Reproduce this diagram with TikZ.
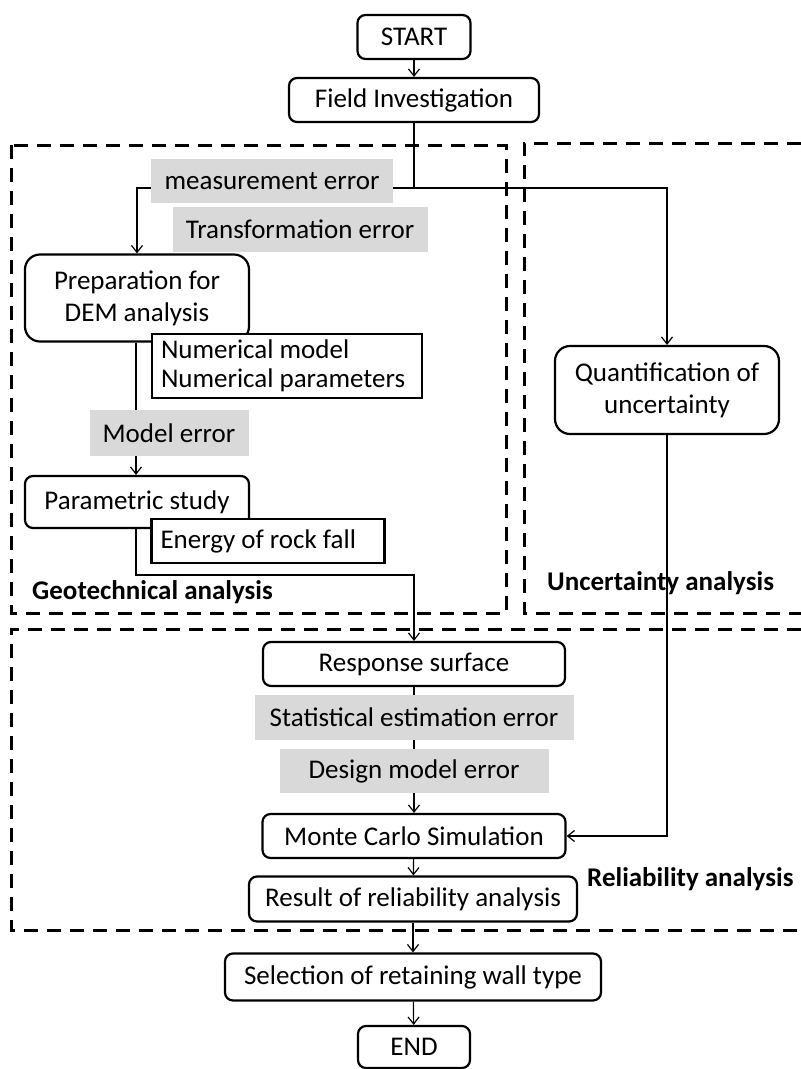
\documentclass[tikz,border=0pt]{standalone}
\usepackage{fontspec}
\setmainfont{Carlito}
\usetikzlibrary{arrows.meta}
\definecolor{errgray}{HTML}{D9D9D9}
\begin{document}
\begin{tikzpicture}[x=1pt,y=-1pt,
  font=\fontsize{27}{32}\selectfont,
  flowbox/.style={draw, line width=2.2pt, rounded corners=8pt, inner sep=0pt, align=center, fill=white},
  bigbox/.style={flowbox, rounded corners=15pt},
  sqbox/.style={draw, line width=2.2pt, inner ysep=0pt, inner xsep=9pt, align=flush left, fill=white},
  errlabel/.style={fill=errgray, inner sep=0pt, align=center},
  conn/.style={line width=1.2pt},
  arr/.style={conn, -{Straight Barb[length=7pt,width=11pt,line width=1.2pt]}},
  region/.style={line width=3pt, dash pattern=on 14pt off 9pt},
  regionlabel/.style={font=\fontsize{27}{32}\selectfont\bfseries, anchor=west, inner sep=0pt}
]
\useasboundingbox (0,0) rectangle (801,1069);

% dashed regions
\draw[region] (11,145) rectangle (506,613);
\draw[region] (801,143) -- (524,143) -- (524,613) -- (801,613);
\draw[region] (801,629) -- (11,629) -- (11,930) -- (801,930);

% nodes
\node[flowbox, minimum width=113pt, minimum height=44pt] (start) at (414,37) {START};
\node[flowbox, minimum width=250pt, minimum height=44pt] (field) at (414,100) {Field Investigation};
\node[bigbox, minimum width=224pt, minimum height=87pt] (prep) at (137,298) {Preparation for\\DEM analysis};
\node[bigbox, minimum width=224pt, minimum height=88pt] (quant) at (667,390) {Quantification of\\uncertainty};
\node[flowbox, minimum width=224pt, minimum height=52pt] (param) at (137,502) {Parametric study};
\node[flowbox, minimum width=302pt, minimum height=44pt] (resp) at (414,664) {Response surface};
\node[flowbox, minimum width=303pt, minimum height=44pt] (mc) at (414,836) {Monte Carlo Simulation};
\node[flowbox, minimum width=328pt, minimum height=45pt] (result) at (413,899) {Result of reliability analysis};
\node[flowbox, minimum width=376pt, minimum height=47pt] (select) at (413,977) {Selection of retaining wall type};
\node[flowbox, minimum width=112pt, minimum height=42pt] (end) at (414,1047) {END};

\coordinate (j1) at (414,188);
\coordinate (j2) at (136,575);

% connectors
\draw[arr] (start) -- (field);
\draw[conn] (field.south) -- (j1);
\draw[arr] (j1) -| (quant.north);
\draw[arr] (j1) -| (prep.north);
\draw[arr] (prep.south -| j2) -- (param.north -| j2);
\draw[arr] (param.south -| j2) -- (j2) -| (resp.north);
\draw[arr] (resp) -- (mc);
\draw[arr] (quant.south) |- (mc.east);
\draw[arr] (mc) -- (result);
\draw[arr] (result) -- (select);
\draw[arr] (select) -- (end);

% overlay boxes and error labels
\node[sqbox, text width=252pt, minimum height=64pt, font=\fontsize{27}{29}\selectfont] (num) at (287,366) {Numerical model\\Numerical parameters};
\node[sqbox, text width=215pt, minimum height=44pt] (energy) at (268,541) {Energy of rock fall};
\node[errlabel, minimum width=242pt, minimum height=44pt] (meas) at (272,181) {measurement error};
\node[errlabel, minimum width=255pt, minimum height=45pt] (trans) at (300,229) {Transformation error};
\node[errlabel, minimum width=159pt, minimum height=46pt] (model) at (169,433) {Model error};
\node[errlabel, minimum width=319pt, minimum height=45pt] (stat) at (414,717) {Statistical estimation error};
\node[errlabel, minimum width=269pt, minimum height=44pt] (design) at (414,771) {Design model error};

% region labels
\node[regionlabel] (geo) at (32,592) {Geotechnical analysis};
\node[regionlabel] (unc) at (547,583) {Uncertainty analysis};
\node[regionlabel] (rel) at (587,879) {Reliability analysis};
\end{tikzpicture}
\end{document}
